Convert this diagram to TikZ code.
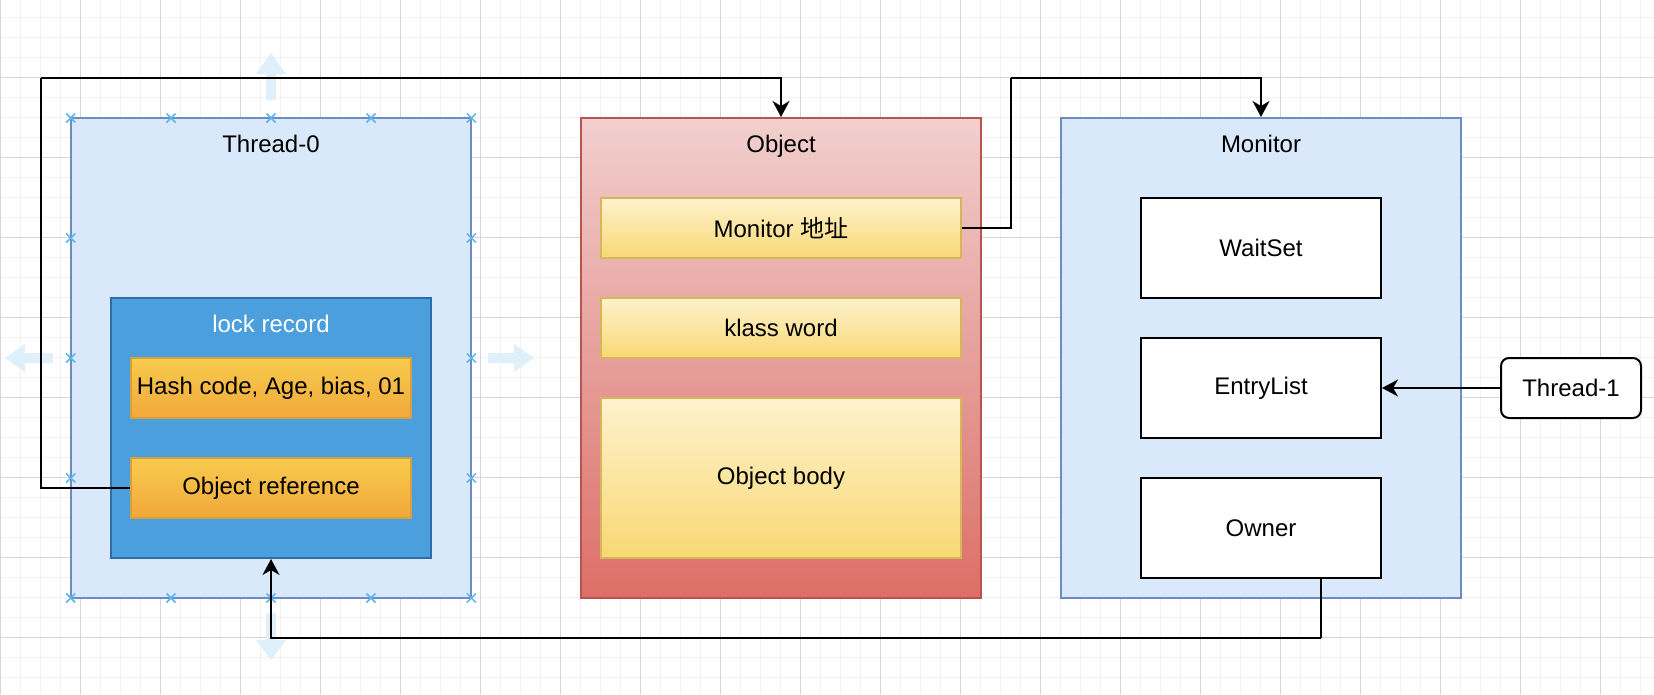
\documentclass[tikz,border=0pt]{standalone}
\usepackage{fontspec}
\setmainfont{Liberation Sans}
\newfontfamily\cjk{Noto Sans CJK SC}
\usetikzlibrary{arrows.meta}
\definecolor{gridminor}{HTML}{F2F2F2}
\definecolor{gridmajor}{HTML}{D6D6D6}
\definecolor{blueF}{HTML}{DAE8FC}
\definecolor{blueD}{HTML}{6C8EBF}
\definecolor{lockF}{HTML}{4A9FDC}
\definecolor{lockD}{HTML}{2E6DAA}
\definecolor{orT}{HTML}{F8CB4D}
\definecolor{orB}{HTML}{F1A83A}
\definecolor{orD}{HTML}{D6A03E}
\definecolor{objT}{HTML}{F1CFCE}
\definecolor{objB}{HTML}{DC6F67}
\definecolor{objD}{HTML}{B85450}
\definecolor{yelT}{HTML}{FEF2CD}
\definecolor{yelB}{HTML}{F8D874}
\definecolor{yelD}{HTML}{D6B656}
\definecolor{selX}{HTML}{5AB4EE}
\definecolor{selA}{HTML}{DFF0FA}
\begin{document}
\begin{tikzpicture}[x=1pt,y=-1pt,
  font=\fontsize{24}{28}\selectfont,
  minorline/.style={draw=gridminor, line width=1pt},
  majorline/.style={draw=gridmajor, line width=1pt},
  box/.style={rectangle, line width=2pt, inner sep=0pt, align=center},
  container/.style={box, fill=blueF, draw=blueD, minimum width=400pt, minimum height=480pt},
  lbl/.style={anchor=base, yshift=-35.5pt, inner sep=0pt},
  orangebox/.style={box, draw=orD, top color=orT, bottom color=orB, minimum width=280pt, minimum height=60pt},
  yelbox/.style={box, draw=yelD, top color=yelT, bottom color=yelB, minimum width=360pt},
  plainbox/.style={box, draw=black, fill=white, minimum width=240pt, minimum height=100pt},
  conn/.style={line width=2pt, draw=black, -{Stealth[length=16pt,width=17pt,inset=5pt]}},
  plainline/.style={line width=2pt, draw=black},
  selcross/.style={draw=selX, line width=1.5pt},
  selarrow/.style={fill=selA, draw=none}
]
\useasboundingbox (0,0) rectangle (1654,694);
% background grid
\begin{scope}
\clip (0,0) rectangle (1654,694);
\fill[white] (0,0) rectangle (1654,694);
\foreach \i in {0,...,83} { \draw[minorline] (\i*20+0.5,0) -- (\i*20+0.5,694); }
\foreach \j in {0,...,34} { \draw[minorline] (0,\j*20+17.3) -- (1654,\j*20+17.3); }
\foreach \i in {0,...,20} { \draw[majorline] (\i*80+0.5,0) -- (\i*80+0.5,694); }
\foreach \j in {0,...,7} { \draw[majorline] (0,\j*80+77.3) -- (1654,\j*80+77.3); }
\end{scope}

% selection arrows (faded)
\fill[selarrow] (266,100) -- (276,100) -- (276,74) -- (286,74) -- (271,53) -- (256,74) -- (266,74) -- cycle;
\fill[selarrow] (266,613) -- (276,613) -- (276,640) -- (286,640) -- (271,660) -- (256,640) -- (266,640) -- cycle;
\fill[selarrow] (53,353) -- (53,363) -- (25,363) -- (25,372) -- (5,358) -- (25,344) -- (25,353) -- cycle;
\fill[selarrow] (488,353) -- (488,363) -- (514,363) -- (514,372) -- (534,358) -- (514,344) -- (514,353) -- cycle;

% Thread-0
\node[container, label={[lbl]north:Thread-0}] (thread0) at (271,358) {};
\node[box, fill=lockF, draw=lockD, minimum width=320pt, minimum height=260pt,
      label={[lbl, text=white]north:lock record}] (lockrec) at (271,428) {};
\node[orangebox] (hash) at (271,388) {Hash code, Age, bias, 01};
\node[orangebox] (objref) at (271,488) {Object reference};

% Object
\node[box, draw=objD, top color=objT, bottom color=objB, minimum width=400pt, minimum height=480pt,
      label={[lbl]north:Object}] (object) at (781,358) {};
\node[yelbox, minimum height=60pt] (monaddr) at (781,228) {Monitor {\cjk 地址}};
\node[yelbox, minimum height=60pt] (klass) at (781,328) {klass word};
\node[yelbox, minimum height=160pt] (body) at (781,478) {Object body};

% Monitor
\node[container, label={[lbl]north:Monitor}] (monitor) at (1261,358) {};
\node[plainbox] (waitset) at (1261,248) {WaitSet};
\node[plainbox] (entry) at (1261,388) {EntryList};
\node[plainbox] (owner) at (1261,528) {Owner};
\node[box, draw=black, fill=white, rounded corners=8pt, minimum width=140pt, minimum height=60pt] (thread1) at (1571,388) {Thread-1};

% selection crosses on Thread-0
\foreach \p in {(70.7,118),(171,118),(271,118),(371,118),(471.4,118),
                (70.7,598),(171,598),(271,598),(371,598),(471.4,598),
                (70.7,238),(70.7,358),(70.7,478),
                (471.4,238),(471.4,358),(471.4,478)}
  { \draw[selcross] \p ++(-4.5,-4.5) -- ++(9,9) \p ++(-4.5,4.5) -- ++(9,-9); }

% connectors
\coordinate (k1) at (41,78);
\coordinate (k2) at (1011,78);
\coordinate (k3) at (1321,638);
\draw[plainline] (objref.west) -| (k1);
\draw[conn] (k1) -| (object.north);
\draw[plainline] (monaddr.east) -| (k2);
\draw[conn] (k2) -| (monitor.north);
\draw[conn] (thread1.west) -- (entry.east);
\draw[plainline] (owner.south -| k3) -- (k3);
\draw[conn] (k3) -| (lockrec.south);
\end{tikzpicture}
\end{document}
